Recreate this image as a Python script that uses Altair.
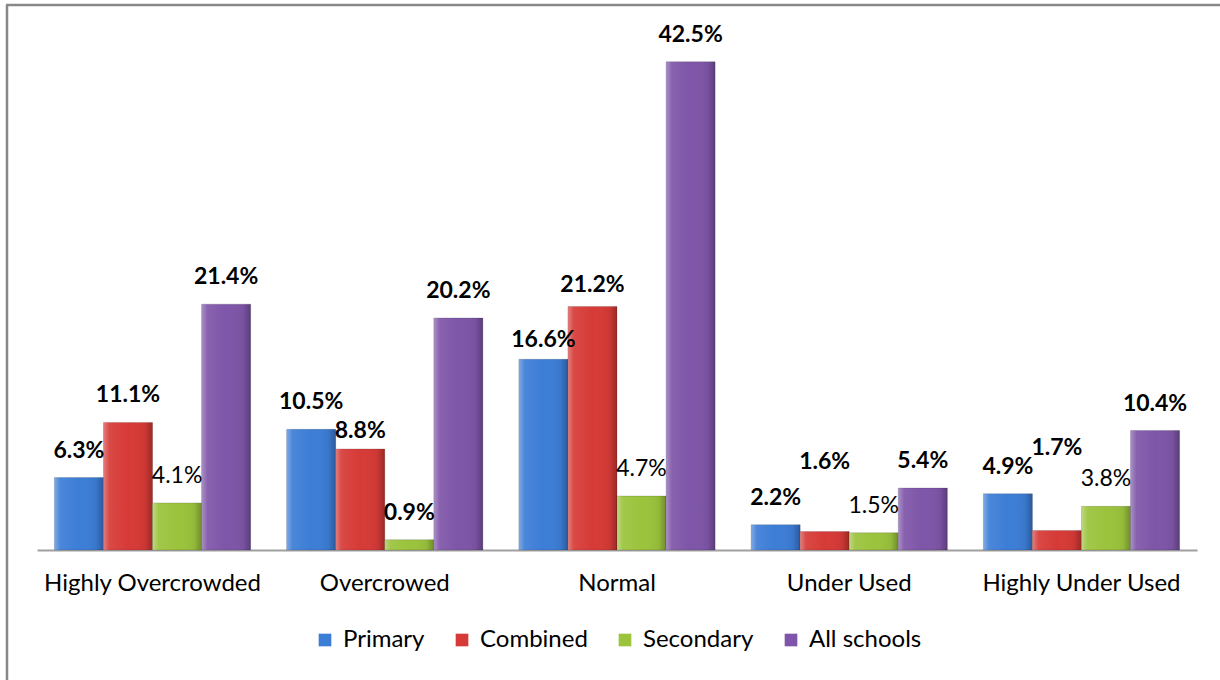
import altair as alt
import pandas as pd

categories = ["Highly Overcrowded", "Overcrowed", "Normal", "Under Used", "Highly Under Used"]
series = ["Primary", "Combined", "Secondary", "All schools"]
primary = [6.3, 10.5, 16.6, 2.2, 4.9]
combined = [11.1, 8.8, 21.2, 1.6, 1.7]
secondary = [4.1, 0.9, 4.7, 1.5, 3.8]
all_schools = [21.4, 20.2, 42.5, 5.4, 10.4]
colors = ["#3C7DD6", "#D63A36", "#9BC33C", "#7E55A8"]

# extra vertical shift (px) of a few data labels, as placed in the original
label_shift = {("Under Used", "Combined"): -43, ("Highly Under Used", "Combined"): -55,
               ("Overcrowed", "Combined"): 9, ("Normal", "Primary"): 8, ("Normal", "Combined"): 6}

values = {"Primary": primary, "Combined": combined, "Secondary": secondary, "All schools": all_schools}
rows = []
for s in series:
    for c, v in zip(categories, values[s]):
        rows.append({"category": c, "series": s, "value": v, "label": f"{v:.1f}%",
                     "shift": label_shift.get((c, s), 0),
                     "weight": "normal" if (s == "Secondary" and v >= 1) else "bold"})
df = pd.DataFrame(rows)

FONT = "Lato"
W, H = 1160, 540

x = alt.X("category:N", sort=categories, title=None,
          scale=alt.Scale(paddingInner=0.155, paddingOuter=0.075),
          axis=alt.Axis(labelAngle=0, ticks=False, labelPadding=21, labelFontSize=24,
                        labelFont=FONT, labelColor="#000", domainColor="#A0A0A0",
                        domainWidth=2, grid=False, labelLimit=400))
xo = alt.XOffset("series:N", sort=series, scale=alt.Scale(paddingInner=0, paddingOuter=0))
y = alt.Y("value:Q", scale=alt.Scale(domain=[0, 47], nice=False), axis=None)

base = alt.Chart(df)

bars = base.mark_bar(stroke="rgba(0,0,0,0.25)", strokeWidth=0.6).encode(
    x=x, xOffset=xo, y=y,
    color=alt.Color("series:N", sort=series,
                    scale=alt.Scale(domain=series, range=colors),
                    legend=alt.Legend(title=None, orient="none", direction="horizontal",
                                      legendX=276, legendY=618, symbolType="square",
                                      symbolSize=160, symbolStrokeWidth=0,
                                      labelFont=FONT, labelFontSize=24, labelColor="#000",
                                      columnPadding=25, labelOffset=6, labelLimit=300)),
)

shade = base.mark_bar(
    fill=alt.LinearGradient(
        gradient="linear", x1=0, x2=1, y1=0, y2=0,
        stops=[alt.GradientStop(color="rgba(255,255,255,0.35)", offset=0),
               alt.GradientStop(color="rgba(255,255,255,0.08)", offset=0.12),
               alt.GradientStop(color="rgba(255,255,255,0)", offset=0.5),
               alt.GradientStop(color="rgba(0,0,0,0.05)", offset=0.85),
               alt.GradientStop(color="rgba(0,0,0,0.28)", offset=1)])
).encode(x=x, xOffset=xo, y=y)

label_layers = []
for w in ["bold", "normal"]:
    for sh in sorted(set(df["shift"])):
        sub = df[(df["weight"] == w) & (df["shift"] == sh)]
        if len(sub) == 0:
            continue
        label_layers.append(
            base.transform_filter(f"datum.weight == '{w}' && datum.shift == {sh}")
            .mark_text(font=FONT, fontSize=23, fontWeight=w, dy=-27 + int(sh),
                       baseline="middle", color="#000")
            .encode(x=x, xOffset=xo, y=y, text="label:N")
        )

one = alt.Chart(pd.DataFrame({"a": [0]}))
frame_left = one.mark_rule(color="#888888", strokeWidth=2.5).encode(
    x=alt.value(-30), y=alt.value(-5), y2=alt.value(720))
frame_top = one.mark_rule(color="#888888", strokeWidth=2.5).encode(
    x=alt.value(-31), x2=alt.value(1260), y=alt.value(-5))
# white rules hiding the plot-area outline
hide_top = one.mark_rule(color="white", strokeWidth=4).encode(
    x=alt.value(-2), x2=alt.value(W + 2), y=alt.value(0))
hide_right = one.mark_rule(color="white", strokeWidth=4).encode(
    x=alt.value(W), y=alt.value(-2), y2=alt.value(H - 2))
hide_left = one.mark_rule(color="white", strokeWidth=4).encode(
    x=alt.value(0), y=alt.value(-2), y2=alt.value(H - 2))

chart = alt.layer(frame_left, frame_top, hide_top, hide_right, hide_left,
                  bars, shade, *label_layers).properties(
    width=W, height=H,
    autosize=alt.AutoSizeParams(type="none"),
    padding={"left": 37, "top": 10, "right": 23, "bottom": 130},
    background="white",
    view=alt.ViewBackground(stroke="transparent", strokeWidth=0),
).configure(view=alt.ViewConfig(stroke="transparent", strokeWidth=0))

chart.save("out.html", embed_options={"renderer": "svg", "actions": False})
